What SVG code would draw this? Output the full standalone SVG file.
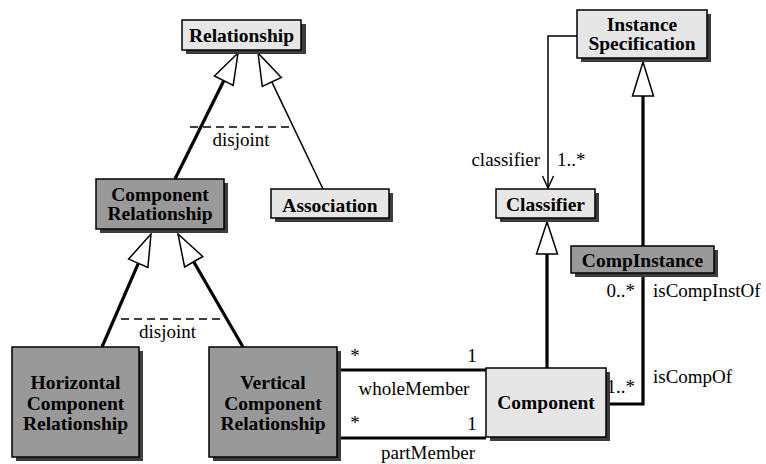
<svg xmlns="http://www.w3.org/2000/svg" width="766" height="464" viewBox="0 0 766 464">
<style>
  .sh{fill:#3c3c3c}
  .lt{fill:#e6e6e6;stroke:#000;stroke-width:1.5}
  .dk{fill:#999;stroke:#000;stroke-width:1.5}
  .bt{font-family:"Liberation Serif","Times New Roman",serif;font-weight:bold;font-size:19.5px;text-anchor:middle;fill:#000}
  .lb{font-family:"Liberation Serif","Times New Roman",serif;font-size:19px;fill:#000}
  .thick{fill:none;stroke:#000;stroke-width:3.2}
  .thin{fill:none;stroke:#000;stroke-width:1.5}
  .dash{fill:none;stroke:#000;stroke-width:1.3;stroke-dasharray:8,5}
  .tri{fill:#fff;stroke:#000;stroke-width:1.5;stroke-linejoin:miter}
</style>
<rect width="766" height="464" fill="#fff"/>
<g id="connectors">
  <!-- Relationship generalizations -->
  <line class="thick" x1="175" y1="179" x2="223.8" y2="80.7"/>
  <polygon class="tri" points="238,53 214.4,76 233.2,85.4"/>
  <line class="thin" x1="323" y1="189" x2="271.8" y2="81.9"/>
  <polygon class="tri" points="258,53 262.3,86.4 281.3,77.4"/>
  <line class="dash" x1="190" y1="127" x2="293" y2="127"/>
  <text class="lb" x="241" y="146" text-anchor="middle">disjoint</text>
  <!-- Component Relationship generalizations -->
  <line class="thick" x1="102" y1="347" x2="138.3" y2="263.3"/>
  <polygon class="tri" points="151,234 128.6,259.1 147.9,267.5"/>
  <line class="thick" x1="243" y1="347" x2="193.7" y2="261.7"/>
  <polygon class="tri" points="178,234 184.6,267 202.8,256.5"/>
  <line class="dash" x1="121" y1="319" x2="225" y2="319"/>
  <text class="lb" x="167.5" y="338" text-anchor="middle">disjoint</text>
  <!-- classifier association -->
  <polyline class="thin" points="577,36 548,36 548,187"/>
  <polyline class="thin" points="542.5,176 548,188 553.5,176"/>
  <text class="lb" x="540" y="166" text-anchor="end">classifier</text>
  <text class="lb" x="557" y="166">1..*</text>
  <!-- InstanceSpecification <- CompInstance -->
  <line class="thick" x1="643" y1="96" x2="643" y2="246"/>
  <polygon class="tri" points="643,62 632.5,96 653.5,96"/>
  <!-- Classifier <- Component -->
  <line class="thick" x1="547" y1="254" x2="547" y2="368"/>
  <polygon class="tri" points="547,222 536.5,254 557.5,254"/>
  <!-- CompInstance - Component -->
  <polyline class="thick" points="643,273 643,404 606,404"/>
  <text class="lb" x="635" y="297" text-anchor="end">0..*</text>
  <text class="lb" x="653" y="297">isCompInstOf</text>
  <text class="lb" x="653" y="383">isCompOf</text>
  <text class="lb" x="635" y="393" text-anchor="end">1..*</text>
  <!-- wholeMember / partMember -->
  <line class="thick" x1="337" y1="370" x2="486" y2="370"/>
  <line class="thick" x1="337" y1="438" x2="486" y2="438"/>
  <text class="lb" x="355" y="362" text-anchor="middle">*</text>
  <text class="lb" x="472" y="362" text-anchor="middle">1</text>
  <text class="lb" x="414" y="395" text-anchor="middle">wholeMember</text>
  <text class="lb" x="355" y="429" text-anchor="middle">*</text>
  <text class="lb" x="472" y="430" text-anchor="middle">1</text>
  <text class="lb" x="428" y="459" text-anchor="middle">partMember</text>
</g>
<g id="relationship">
  <rect class="sh" x="186" y="24" width="120" height="30"/>
  <rect class="lt" x="182" y="20" width="119" height="30"/>
  <text class="bt" x="241.5" y="42">Relationship</text>
</g>
<g id="component-relationship">
  <rect class="sh" x="100" y="183" width="128" height="50"/>
  <rect class="dk" x="96" y="179" width="128" height="50"/>
  <text class="bt" x="160" y="201">Component</text>
  <text class="bt" x="160" y="220">Relationship</text>
</g>
<g id="association">
  <rect class="sh" x="275" y="193" width="118" height="29"/>
  <rect class="lt" x="271" y="189" width="118" height="29"/>
  <text class="bt" x="330" y="212">Association</text>
</g>
<g id="horizontal-component-relationship">
  <rect class="sh" x="16" y="351" width="127" height="110"/>
  <rect class="dk" x="12" y="347" width="127" height="110"/>
  <text class="bt" x="75.5" y="389">Horizontal</text>
  <text class="bt" x="75.5" y="410">Component</text>
  <text class="bt" x="75.5" y="430">Relationship</text>
</g>
<g id="vertical-component-relationship">
  <rect class="sh" x="213" y="351" width="128" height="110"/>
  <rect class="dk" x="209" y="347" width="128" height="110"/>
  <text class="bt" x="273" y="389">Vertical</text>
  <text class="bt" x="273" y="410">Component</text>
  <text class="bt" x="273" y="430">Relationship</text>
</g>
<g id="component">
  <rect class="sh" x="490" y="372" width="120" height="69"/>
  <rect class="lt" x="486" y="368" width="120" height="69"/>
  <text class="bt" x="546" y="409">Component</text>
</g>
<g id="instance-specification">
  <rect class="sh" x="581" y="14" width="130" height="48"/>
  <rect class="lt" x="577" y="10" width="130" height="48"/>
  <text class="bt" x="642" y="31">Instance</text>
  <text class="bt" x="642" y="50">Specification</text>
</g>
<g id="classifier">
  <rect class="sh" x="500" y="193" width="99" height="29"/>
  <rect class="lt" x="496" y="189" width="99" height="29"/>
  <text class="bt" x="545.5" y="211">Classifier</text>
</g>
<g id="compinstance">
  <rect class="sh" x="575" y="250" width="143" height="27"/>
  <rect class="dk" x="571" y="246" width="143" height="27"/>
  <text class="bt" x="642.5" y="267">CompInstance</text>
</g>
</svg>
